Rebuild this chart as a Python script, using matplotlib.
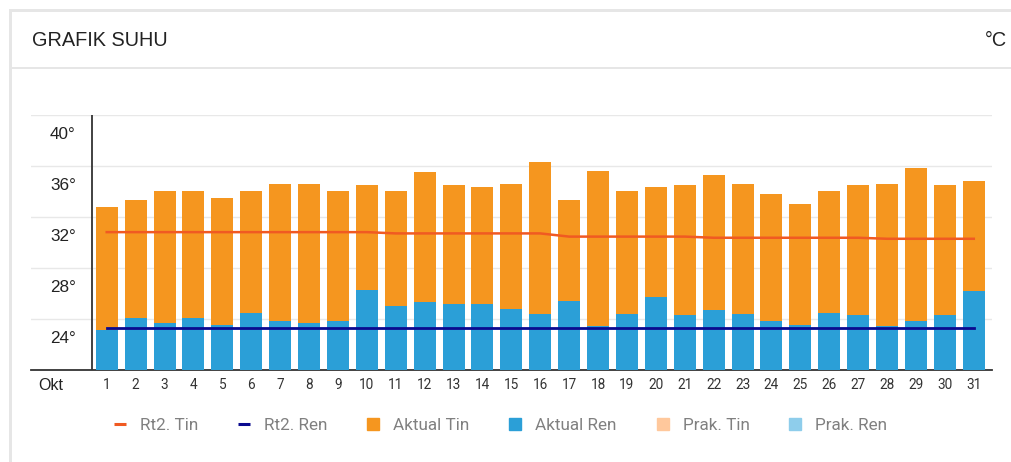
import numpy as np
import matplotlib
matplotlib.use('Agg')
import matplotlib.pyplot as plt
from matplotlib.lines import Line2D
from matplotlib.patches import Patch, Rectangle

days = np.arange(1, 32)
aktual_tin = [32.8, 33.3, 34.0, 34.0, 33.5, 34.0, 34.6, 34.6, 34.0, 34.5,
              34.0, 35.5, 34.5, 34.3, 34.6, 36.3, 33.3, 35.6, 34.0, 34.3,
              34.5, 35.3, 34.6, 33.8, 33.0, 34.0, 34.5, 34.6, 35.8, 34.5, 34.8]
aktual_ren = [23.1, 24.1, 23.7, 24.1, 23.5, 24.5, 23.8, 23.7, 23.8, 26.3,
              25.0, 25.3, 25.2, 25.2, 24.8, 24.4, 25.4, 23.45, 24.4, 25.7,
              24.3, 24.7, 24.4, 23.8, 23.5, 24.5, 24.3, 23.45, 23.8, 24.3, 26.2]
rt2_tin = [30.8] * 10 + [30.7] * 6 + [30.45] * 5 + [30.36] * 6 + [30.28] * 4
rt2_ren = [23.26] * 31
y_ticks = [24, 28, 32, 36, 40]
y_labels = ['24°', '28°', '32°', '36°', '40°']

c_tin = '#F5961F'
c_ren = '#2B9FD7'
c_rt_tin = '#F05A22'
c_rt_ren = '#0A0A8F'
c_prak_tin = '#FFC89C'
c_prak_ren = '#8ECDEB'

W, H = 1011, 462
fig = plt.figure(figsize=(W / 100, H / 100), dpi=100)
fig.patch.set_facecolor('white')

# card borders
border = '#e6e6e6'
fig.add_artist(Rectangle((9 / W, 0), 3 / W, 1 - 9 / H, transform=fig.transFigure, color=border, lw=0))
fig.add_artist(Rectangle((9 / W, 1 - 12 / H), 1, 3 / H, transform=fig.transFigure, color=border, lw=0))
fig.add_artist(Rectangle((12 / W, 1 - 69 / H), 1, 2 / H, transform=fig.transFigure, color=border, lw=0))

fig.text(32 / W, 1 - 40 / H, 'GRAFIK SUHU', fontsize=14.3, family='Liberation Sans',
         color='#222222', va='center', ha='left')
fig.text(1007 / W, 1 - 40 / H, '°C', fontsize=14.3, family='Liberation Sans',
         color='#222222', va='center', ha='right')

ax = fig.add_axes([31 / W, 92 / H, 961 / W, (370 - 114.7) / H])
ax.set_xlim(-1.62, 31.63)
ax.set_ylim(20, 40)

ax.bar(days, np.array(aktual_tin) - 20, bottom=20, width=0.76, color=c_tin, zorder=2)
ax.bar(days, np.array(aktual_ren) - 20, bottom=20, width=0.76, color=c_ren, zorder=3)
ax.plot(days, rt2_tin, color=c_rt_tin, lw=1.8, zorder=4)
ax.plot(days, rt2_ren, color=c_rt_ren, lw=2, zorder=4)

ax.set_yticks(y_ticks)
ax.set_yticklabels([])
ax.grid(axis='y', color='#e8e8e8', lw=1, zorder=0)
ax.tick_params(axis='y', length=0)
for v, lab in zip(y_ticks, y_labels):
    ax.annotate(lab, xy=(32 / 961, v), xycoords=('axes fraction', 'data'),
                xytext=(0, -19.5), textcoords='offset pixels', ha='center', va='center',
                fontsize=12.3, family='Liberation Sans', color='#222222')

ax.set_xticks(days)
ax.set_xticklabels([str(d) for d in days], fontsize=9.8, family='Roboto', color='#333333')
ax.tick_params(axis='x', length=0, pad=6)

for s in ['top', 'right', 'left']:
    ax.spines[s].set_visible(False)
ax.spines['bottom'].set_color('#333333')
ax.spines['bottom'].set_linewidth(1.3)
ax.axvline(0.5, color='#333333', lw=1.3, zorder=5)
ax.set_facecolor('none')

fig.text(38 / W, 1 - 386 / H, 'Okt', fontsize=11.5, family='Liberation Sans',
         color='#222222', va='center', ha='left')

handles = [
    Line2D([], [], color=c_rt_tin, lw=2.2, solid_capstyle='butt'),
    Line2D([], [], color=c_rt_ren, lw=2.2, solid_capstyle='butt'),
    Patch(color=c_tin),
    Patch(color=c_ren),
    Patch(color=c_prak_tin),
    Patch(color=c_prak_ren),
]
labels = ['Rt2. Tin', 'Rt2. Ren', 'Aktual Tin', 'Aktual Ren', 'Prak. Tin', 'Prak. Ren']
fig.legend(handles, labels, loc='center', bbox_to_anchor=(500.5 / W, 1 - 425 / H), ncol=6,
           frameon=False, prop={'family': 'Roboto', 'size': 12.3}, labelcolor='#808080',
           handlelength=0.7, handleheight=0.7, handletextpad=0.82, columnspacing=2.34)

fig.savefig('out.png', dpi=100)
